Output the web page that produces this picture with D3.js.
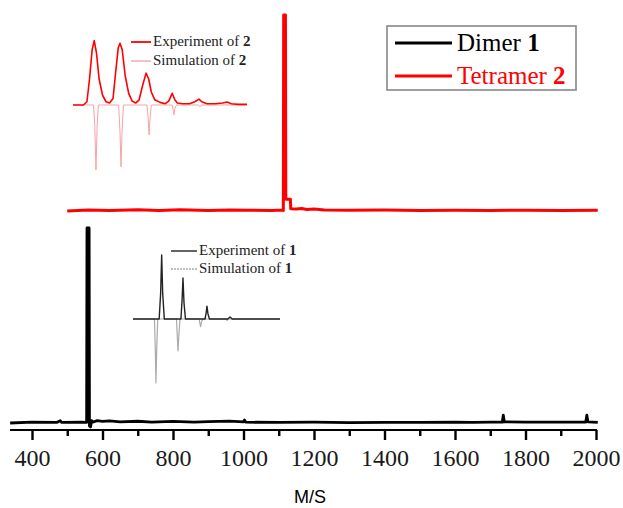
<!DOCTYPE html>
<html>
<head>
<meta charset="utf-8">
<script src="https://cdn.jsdelivr.net/npm/d3@7"></script>
<style>
  body { margin: 0; background: #fff; }
  svg { display: block; }
</style>
</head>
<body>
<div class="board"></div>
<script>
const W = 623, H = 508

// main spectra: [m/z, relative intensity %]
const dimerSpectrum = [
  [338, 0], [400, 0.4], [470, 0.3], [480, 1.2], [484, 0.3], [540, 0.4], [555, 0.3],
  [556, 100], [562, 100], [563, -1.5], [566, -2], [569, 1.2], [574, 0.5], [585, 1.2],
  [600, 0.8], [620, 1.1], [650, 0.6], [700, 0.9], [740, 0.5], [800, 0.8], [860, 0.5],
  [900, 0.7], [960, 1], [1000, 0.6], [1003, 1.5], [1006, 0.4], [1100, 0.3],
  [1200, 0.4], [1300, 0.2], [1400, 0.3], [1500, 0.3], [1600, 0.5], [1650, 0.3],
  [1700, 0.5], [1734, 0.4], [1737, 4], [1740, 0.6], [1800, 0.4], [1900, 0.4],
  [1971, 0.5], [1974, 4], [1977, 0.6], [2005, 0.3]
]
const tetramerSpectrum = [
  [500, 0], [560, 0.5], [620, 0.3], [700, 0.6], [760, 0.3], [820, 0.6], [900, 0.3],
  [960, 0.5], [1020, 0.4], [1080, 0.3], [1110, 0.5], [1113, 0.3],
  [1114, 100], [1119, 100], [1120, 6], [1133, 6], [1134, 1.2], [1150, 1],
  [1165, 1.3], [1180, 0.8], [1200, 1], [1230, 0.5], [1300, 0.4], [1400, 0.5],
  [1500, 0.3], [1600, 0.4], [1700, 0.3], [1800, 0.4], [1900, 0.3], [2005, 0.4]
]

// inset of 2: [position 0-100, intensity %]
const exp2 = [
  [0, 0], [6, 0], [8, 5], [9.5, 40], [11, 85], [12.2, 99], [13.5, 80], [15, 40],
  [17, 15], [19, 5], [21, 3], [23, 10], [24.5, 50], [26, 88], [27, 95], [28.3, 85],
  [30, 45], [32, 18], [34, 6], [36, 3], [38, 8], [40, 30], [42, 49], [43.5, 40],
  [45, 20], [47, 8], [50, 4], [53, 2], [55, 6], [57, 18], [58.5, 8], [60, 3],
  [63, 2], [67, 2], [70, 5], [72.4, 9], [74, 5], [77, 2], [82, 2], [86, 3],
  [88.5, 4.6], [91, 2], [95, 1], [100, 1]
]
const sim2 = [
  [0, 0], [11.8, 0], [12.5, -30], [13.2, -100], [13.9, -30], [14.6, 0], [26.2, 0],
  [27, -40], [27.6, -95], [28.2, -40], [29, 0], [42.5, 0], [43.2, -20], [43.7, -46],
  [44.3, -20], [45, 0], [57, 0], [57.6, -8], [58, -15], [58.6, -5], [59.5, 0],
  [72, 0], [73, -3], [74, 0], [100, 0]
]

// inset of 1
const exp1 = [
  [0, 0], [17.8, 0], [18.8, 40], [19.5, 100], [20.2, 40], [21.3, 0], [32.6, 0],
  [33.4, 30], [34, 64], [34.7, 25], [35.7, 0], [49, 0], [49.8, 10], [50.3, 20],
  [51, 8], [52, 0], [64.5, 0], [66, 3], [67.5, 0], [100, 0]
]
const sim1 = [
  [0, 0], [14.6, 0], [15.2, -50], [15.6, -100], [16.1, -50], [16.8, 0], [29.6, 0],
  [30.2, -30], [30.6, -50], [31.2, -25], [32, 0], [45, 0], [45.6, -8], [46, -12],
  [46.6, -5], [47.4, 0], [63, 0], [64, -2], [65, 0], [100, 0]
]

const majorTicks = [400, 600, 800, 1000, 1200, 1400, 1600, 1800, 2000]
const minorTicks = [500, 700, 900, 1100, 1300, 1500, 1700, 1900]

const RED = "#ff0000"

var svg = d3.select(".board")
    .append("svg")
    .attr("width", W)
    .attr("height", H)

let x = d3.scaleLinear().domain([400, 2000]).range([32, 596])
let yDimer = d3.scaleLinear().domain([0, 100]).range([423, 228])
let yTetra = d3.scaleLinear().domain([0, 100]).range([211, 15])

function drawLine(data, xs, ys, color, width, dash) {
    svg.append("path")
        .datum(data)
        .attr("fill", "none")
        .attr("stroke", color)
        .attr("stroke-width", width)
        .attr("stroke-linejoin", "round")
        .attr("stroke-dasharray", dash || null)
        .attr("d", d3.line().x(d => xs(d[0])).y(d => ys(d[1])))
}

// main spectra
drawLine(tetramerSpectrum, x, yTetra, RED, 3)
drawLine(dimerSpectrum, x, yDimer, "#000", 2.8)

// x axis
let axisY = 430
svg.append("line")
    .attr("x1", 10).attr("x2", 597)
    .attr("y1", axisY).attr("y2", axisY)
    .attr("stroke", "#000").attr("stroke-width", 2.2)

let majorAxis = svg.append("g")
    .attr("transform", `translate(0, ${axisY})`)
    .call(d3.axisBottom(x).tickValues(majorTicks).tickSize(10).tickFormat(d3.format("d")))
majorAxis.select(".domain").remove()
majorAxis.selectAll("line").attr("stroke-width", 2.4)
majorAxis.selectAll("text")
    .attr("y", 36).attr("dy", 0)
    .attr("fill", "#1a1a1a")
    .attr("font-family", "'Liberation Serif', 'Times New Roman', serif")
    .attr("font-size", 24)

let minorAxis = svg.append("g")
    .attr("transform", `translate(0, ${axisY})`)
    .call(d3.axisBottom(x).tickValues(minorTicks).tickSize(6).tickFormat(""))
minorAxis.select(".domain").remove()
minorAxis.selectAll("line").attr("stroke-width", 2.4)

svg.append("text")
    .attr("x", 310).attr("y", 503)
    .attr("text-anchor", "middle")
    .style("font-family", "'Liberation Sans', Arial, sans-serif")
    .style("font-size", "18px")
    .text("M/S")

// legend
svg.append("rect")
    .attr("x", 387).attr("y", 26)
    .attr("width", 189).attr("height", 64)
    .attr("fill", "#fff")
    .attr("stroke", "#888").attr("stroke-width", 1.6)

let legendItems = [
    { name: "Dimer ", num: "1", color: "#000", y: 43 },
    { name: "Tetramer ", num: "2", color: RED, y: 76 }
]
legendItems.forEach(d => {
    svg.append("line")
        .attr("x1", 395).attr("x2", 452)
        .attr("y1", d.y).attr("y2", d.y)
        .attr("stroke", d.color).attr("stroke-width", 3)
    let t = svg.append("text")
        .attr("x", 457).attr("y", d.y + 8)
        .attr("fill", d.color)
        .style("font-family", "'Liberation Serif', 'Times New Roman', serif")
        .style("font-size", "25px")
    t.append("tspan").text(d.name)
    t.append("tspan").attr("font-weight", "bold").text(d.num)
})

// inset of tetramer 2
let ix2 = d3.scaleLinear().domain([0, 100]).range([73, 247])
let iy2 = d3.scaleLinear().domain([-100, 100]).range([170, 40])
drawLine(sim2, ix2, iy2, "#f7a3a3", 1)
drawLine(exp2, ix2, iy2, RED, 1.6)

// inset of dimer 1
let ix1 = d3.scaleLinear().domain([0, 100]).range([133, 280])
let iy1 = d3.scaleLinear().domain([-100, 100]).range([383, 255])
drawLine(sim1, ix1, iy1, "#aaa", 1.2)
drawLine(exp1, ix1, iy1, "#222", 1.4)

function insetLegend(items, x1, x2) {
    items.forEach(d => {
        svg.append("line")
            .attr("x1", x1).attr("x2", x2)
            .attr("y1", d.y).attr("y2", d.y)
            .attr("stroke", d.color).attr("stroke-width", d.w)
            .attr("stroke-dasharray", d.dash || null)
        let t = svg.append("text")
            .attr("x", x2 + 2).attr("y", d.y + 4)
            .attr("fill", "#222")
            .style("font-family", "'Liberation Serif', 'Times New Roman', serif")
            .style("font-size", "15px")
        t.append("tspan").text(d.name)
        t.append("tspan").attr("font-weight", "bold").text(d.num)
    })
}

insetLegend([
    { name: "Experiment of ", num: "2", color: RED, w: 1.8, y: 42 },
    { name: "Simulation of ", num: "2", color: "#f7a3a3", w: 1.4, y: 61 }
], 131, 151)

insetLegend([
    { name: "Experiment of ", num: "1", color: "#222", w: 1.4, y: 251 },
    { name: "Simulation of ", num: "1", color: "#aaa", w: 1.4, y: 269, dash: "2,1" }
], 171, 197)
</script>
</body>
</html>
